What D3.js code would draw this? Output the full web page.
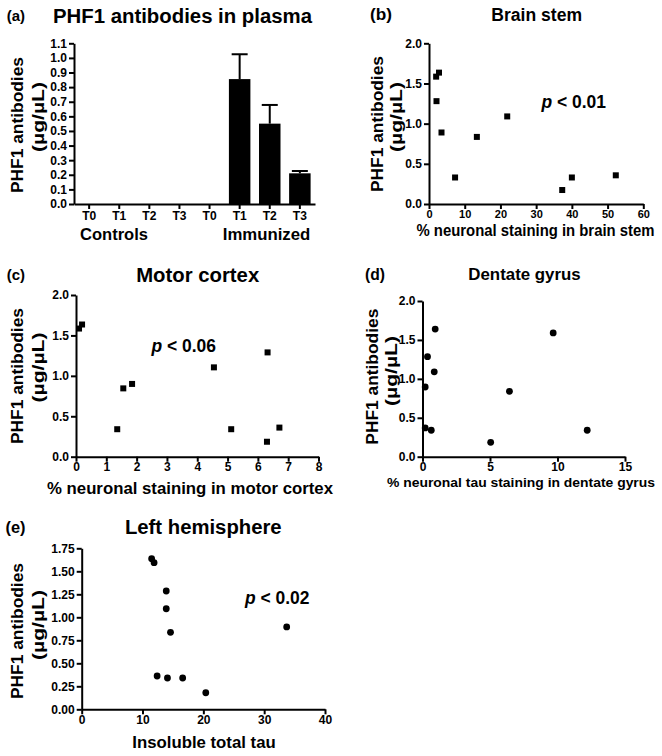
<!DOCTYPE html>
<html><head><meta charset="utf-8">
<script src="https://cdn.jsdelivr.net/npm/d3@7"></script>
<style>
body{margin:0;background:#fff}
svg{display:block}
text{font-family:"Liberation Sans",Arial,Helvetica,sans-serif;font-weight:bold;fill:#000}
</style>
</head><body>
<svg id="chart" width="662" height="756"></svg>
<script>
// ---------- data ----------
const barLabels = ["T0","T1","T2","T3","T0","T1","T2","T3"];
const barGroups = ["Controls","Immunized"];
const barMeans = [0,0,0,0,0,0.855,0.55,0.21];
const barErrors = [0,0,0,0,0,0.17,0.128,0.016];
const barTicks = [0,0.1,0.2,0.3,0.4,0.5,0.6,0.7,0.8,0.9,1.0,1.1];

const brainStemX = [2.0,2.8,2.1,3.5,7.3,13.4,21.9,37.3,40.0,52.3];
const brainStemY = [1.585,1.635,1.28,0.89,0.33,0.835,1.09,0.174,0.33,0.357];

const motorCortexX = [0.1,0.2,1.36,1.56,1.85,4.55,5.12,6.32,6.30,6.71];
const motorCortexY = [1.585,1.635,0.34,0.845,0.9,1.105,0.34,1.29,0.185,0.36];

const dentateX = [0.94,9.68,0.37,0.87,0.2,6.44,0.2,0.65,5.05,12.2];
const dentateY = [1.64,1.59,1.285,1.09,0.895,0.84,0.37,0.34,0.185,0.34];

const leftHemiX = [11.5,11.9,13.9,13.9,14.6,33.7,12.4,14.1,16.6,20.4];
const leftHemiY = [1.637,1.594,1.286,1.093,0.837,0.895,0.362,0.34,0.34,0.18];

const ticks2 = [0,0.5,1.0,1.5,2.0];
const ticks175 = [0,0.25,0.5,0.75,1.0,1.25,1.5,1.75];

// ---------- helpers ----------
const svg = d3.select("#chart");

function fit(sel,w){ if(w) sel.attr("textLength",w).attr("lengthAdjust","spacingAndGlyphs"); return sel; }

function styleAxis(g, fs){
  g.selectAll("path.domain").attr("stroke","#000").attr("stroke-width",2);
  g.selectAll(".tick line").attr("stroke","#000").attr("stroke-width",2);
  g.selectAll(".tick text").attr("font-size",fs).attr("fill","#000");
}

function yLabel(cx1, cy1, cx2, cy2){
  fit(svg.append("text").attr("transform",`translate(${cx1},${cy1}) rotate(-90)`)
    .attr("text-anchor","middle").attr("font-size",17.4).text("PHF1 antibodies"),136);
  fit(svg.append("text").attr("transform",`translate(${cx2},${cy2}) rotate(-90)`)
    .attr("text-anchor","middle").attr("font-size",17.4).text("(\u00b5g/\u00b5L)"),70);
}

function addText(x,y,txt,fs,anchor,w){
  return fit(svg.append("text").attr("x",x).attr("y",y).attr("font-size",fs)
    .attr("text-anchor",anchor||"start").text(txt), w);
}

function pText(x,y,val){
  const t = svg.append("text").attr("x",x).attr("y",y).attr("font-size",17.5);
  t.append("tspan").attr("font-style","italic").text("p");
  t.append("tspan").text(" < " + val);
  fit(t,64.5);
}

function scatter(opts){
  const x = d3.scaleLinear().domain(opts.xDomain).range([opts.x0,opts.x1]);
  const y = d3.scaleLinear().domain(opts.yDomain).range([opts.y0,opts.y1]);
  const gx = svg.append("g").attr("transform",`translate(0,${opts.y0})`)
    .call(d3.axisBottom(x).tickValues(opts.xTicks).tickFormat(d3.format("d")).tickSize(5).tickSizeOuter(0).tickPadding(1));
  styleAxis(gx, opts.xfs || 12);
  const gy = svg.append("g").attr("transform",`translate(${opts.x0},0)`)
    .call(d3.axisLeft(y).tickValues(opts.yTicks).tickFormat(d3.format(opts.yFmt)).tickSize(5).tickSizeOuter(0).tickPadding(2));
  styleAxis(gy, 12);
  const data = opts.xs.map((v,i)=>({x:v,y:opts.ys[i]}));
  if(opts.shape==="square"){
    svg.append("g").selectAll("rect").data(data).join("rect")
      .attr("x",d=>x(d.x)-3).attr("y",d=>y(d.y)-3).attr("width",6).attr("height",6).attr("fill","#000");
  } else {
    svg.append("g").selectAll("circle").data(data).join("circle")
      .attr("cx",d=>x(d.x)).attr("cy",d=>y(d.y)).attr("r",3.4).attr("fill","#000");
  }
}

// ---------- panel (a) ----------
{
  const x0=74, x1=315, y0=204, y1=43.3;
  const x = d3.scaleBand().domain(d3.range(barLabels.length)).range([x0,x1]).paddingInner(0.286).paddingOuter(0.146);
  const y = d3.scaleLinear().domain([0,1.1]).range([y0,y1]);
  svg.append("g").selectAll("rect").data(barMeans).join("rect")
    .attr("x",(d,i)=>x(i)).attr("width",x.bandwidth())
    .attr("y",d=>y(d)).attr("height",d=>y0-y(d)).attr("fill","#000");
  const eb = svg.append("g").attr("stroke","#000").attr("stroke-width",2);
  barMeans.forEach((m,i)=>{
    if(m<=0) return;
    const cx = x(i)+x.bandwidth()/2;
    eb.append("line").attr("x1",cx).attr("x2",cx).attr("y1",y(m)).attr("y2",y(m+barErrors[i]));
    eb.append("line").attr("x1",cx-8).attr("x2",cx+8).attr("y1",y(m+barErrors[i])).attr("y2",y(m+barErrors[i]));
  });
  const gx = svg.append("g").attr("transform",`translate(0,${y0})`)
    .call(d3.axisBottom(x).tickFormat(i=>barLabels[i]).tickSize(5).tickSizeOuter(0).tickPadding(2));
  styleAxis(gx, 12);
  const gy = svg.append("g").attr("transform",`translate(${x0},0)`)
    .call(d3.axisLeft(y).tickValues(barTicks).tickFormat(d3.format(".1f")).tickSize(5).tickSizeOuter(0).tickPadding(2));
  styleAxis(gy, 12);
  addText(114,240,barGroups[0],16.5,"middle",68);
  addText(266.5,240,barGroups[1],16.5,"middle",87.5);
  addText(182.5,22.5,"PHF1 antibodies in plasma",20.3,"middle",259);
  addText(6.7,20.5,"(a)",15.5,"start",18.3);
  yLabel(22.5,125,43.5,117);
}

// ---------- panel (b) ----------
scatter({xDomain:[0,60],yDomain:[0,2],x0:429,x1:643.3,y0:204,y1:43.3,xfs:11,
  xTicks:[0,10,20,30,40,50,60],yTicks:ticks2,yFmt:".1f",xs:brainStemX,ys:brainStemY,shape:"square"});
addText(536.7,20.7,"Brain stem",17.5,"middle",90.7);
addText(370,20,"(b)",17,"start",22);
pText(541.5,108,"0.01");
addText(535.5,236,"% neuronal staining in brain stem",16,"middle",238);
yLabel(383,124,401.5,117);

// ---------- panel (c) ----------
scatter({xDomain:[0,8],yDomain:[0,2],x0:76,x1:318.5,y0:456.7,y1:295,
  xTicks:d3.range(0,9),yTicks:ticks2,yFmt:".1f",xs:motorCortexX,ys:motorCortexY,shape:"square"});
addText(197.7,281.7,"Motor cortex",20.3,"middle",123);
addText(6.7,280,"(c)",15.5,"start",18.3);
pText(151.5,351.7,"0.06");
addText(190,494,"% neuronal staining in motor cortex",16.8,"middle",286);
yLabel(22.5,376,43.5,367.5);

// ---------- panel (d) ----------
scatter({xDomain:[0,15],yDomain:[0,2],x0:422.5,x1:625,y0:456.7,y1:301,
  xTicks:[0,5,10,15],yTicks:ticks2,yFmt:".1f",xs:dentateX,ys:dentateY,shape:"circle"});
addText(524.5,280,"Dentate gyrus",16.8,"middle",112.3);
addText(365,280,"(d)",16,"start",20);
addText(521,486.5,"% neuronal tau staining in dentate gyrus",13.7,"middle",268);
yLabel(378,376.7,396.5,371);

// ---------- panel (e) ----------
scatter({xDomain:[0,40],yDomain:[0,1.75],x0:81.7,x1:325,y0:709.3,y1:548.3,
  xTicks:[0,10,20,30,40],yTicks:ticks175,yFmt:".2f",xs:leftHemiX,ys:leftHemiY,shape:"circle"});
addText(203.3,534,"Left hemisphere",20.3,"middle",156.7);
addText(5.5,533,"(e)",16,"start",20);
pText(245,604,"0.02");
addText(204,748,"Insoluble total tau",16.8,"middle",143.4);
yLabel(22.5,631,43.5,625);
</script>
</body></html>
